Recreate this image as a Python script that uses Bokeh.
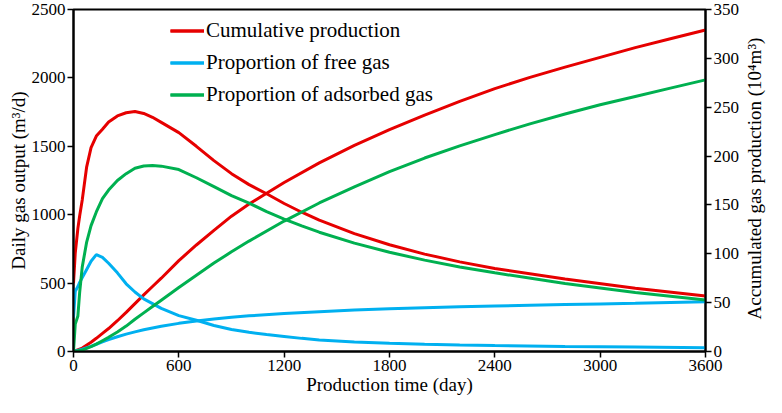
import math
from bokeh.plotting import figure
from bokeh.layouts import row
from bokeh.models import Range1d, LinearAxis, Legend, LegendItem, FixedTicker
from bokeh.embed import file_html
from bokeh.resources import INLINE

# ---- data ----
t_daily = [0, 10, 25, 35, 50, 75, 100, 130, 165, 200, 250, 300, 350, 400, 450, 500,
           600, 700, 800, 900, 1000, 1100, 1200, 1300, 1400, 1600, 1800, 2000, 2200, 2400,
           2800, 3200, 3600]
total_daily = [500, 720, 900, 990, 1110, 1350, 1490, 1575, 1625, 1678, 1722, 1745, 1755, 1740, 1712, 1675,
               1600, 1500, 1395, 1300, 1220, 1153, 1082, 1018, 960, 862, 780, 712, 655, 607,
               530, 463, 405]
free_daily = [250, 440, 475, 505, 540, 600, 660, 708, 688, 645, 575, 495, 435, 385, 350, 315,
              262, 228, 190, 161, 140, 124, 110, 96, 84, 70, 60, 53, 47, 43,
              37, 32, 28]
adsorbed_daily = [0, 200, 260, 430, 620, 800, 920, 1020, 1117, 1180, 1250, 1300, 1340, 1356, 1360, 1355,
                  1330, 1270, 1205, 1140, 1085, 1022, 968, 918, 872, 792, 725, 668, 618, 575,
                  497, 432, 377]

t_cum = [0, 50, 100, 130, 165, 200, 250, 300, 350, 400, 450, 500, 600, 700, 800, 900, 1000,
         1200, 1400, 1600, 1800, 2000, 2200, 2400, 2600, 2800, 3000, 3200, 3400, 3600]
total_cum = [0, 3.5, 9.5, 13.5, 18.5, 23.5, 31.5, 40, 49, 58, 66.5, 75, 93, 109, 124, 138.5, 151,
             173, 193, 211, 227, 242, 256, 269, 280.5, 291, 301, 311, 320, 329]
free_cum = [0, 2.3, 5.3, 7.4, 9.8, 12.1, 15.1, 17.8, 20.1, 22.2, 24.1, 25.8, 28.8, 31.3, 33.3, 35, 36.5,
            38.8, 40.8, 42.4, 43.7, 44.8, 45.8, 46.6, 47.3, 48, 48.7, 49.4, 50.2, 51]
adsorbed_cum = [0, 1.5, 5, 7.5, 11, 14.5, 20, 26, 33, 39.5, 46, 52.5, 65.5, 78, 90.5, 102, 113,
                133.5, 152, 168.5, 184, 198, 210.5, 222, 233, 243, 252.5, 261, 269.5, 278]

x_ticks = [0, 600, 1200, 1800, 2400, 3000, 3600]
left_ticks = [0, 500, 1000, 1500, 2000, 2500]
right_ticks = [0, 50, 100, 150, 200, 250, 300, 350]

labels = ["Cumulative production", "Proportion of free gas", "Proportion of adsorbed gas"]
colors = ["#E60000", "#00B0F0", "#00B050"]
right_title = "Accumulated gas production (10⁴m³)"

FONT = "Liberation Serif"
TOP, BOTTOM = 9, 46

cum_range = Range1d(0, 350)

p = figure(width=742, height=397, x_range=Range1d(0, 3600), y_range=Range1d(0, 2500),
           output_backend="svg", toolbar_location=None)
p.min_border = 0
p.min_border_left = 73
p.min_border_top = TOP
p.min_border_right = 30
p.min_border_bottom = BOTTOM
p.extra_y_ranges = {"cum": cum_range}
p.grid.visible = False
p.outline_line_color = "black"
p.outline_line_width = 2
p.outline_line_alpha = 1
p.background_fill_color = "white"
p.border_fill_color = "white"

p.xaxis.ticker = FixedTicker(ticks=x_ticks)
p.yaxis.ticker = FixedTicker(ticks=left_ticks)
p.xaxis.axis_label = "Production time (day)"
p.yaxis.axis_label = "Daily gas output (m³/d)"

right = LinearAxis(y_range_name="cum", ticker=FixedTicker(ticks=right_ticks))
p.add_layout(right, "right")

for ax in [p.xaxis[0], p.yaxis[0], right]:
    ax.axis_line_width = 2
    ax.axis_line_color = "black"
    ax.major_tick_line_width = 1.5
    ax.major_tick_line_color = "black"
    ax.major_tick_out = 6
    ax.major_tick_in = 0
    ax.minor_tick_out = 0
    ax.minor_tick_in = 0
    ax.major_label_text_font = FONT
    ax.major_label_text_font_size = "17px"
    ax.major_label_text_color = "black"
    ax.major_label_standoff = 2
    ax.axis_label_text_font = FONT
    ax.axis_label_text_font_size = "19px"
    ax.axis_label_text_font_style = "normal"
    ax.axis_label_text_color = "black"
    ax.axis_label_standoff = 0

series_daily = [total_daily, free_daily, adsorbed_daily]
series_cum = [total_cum, free_cum, adsorbed_cum]
items = []
for lab, col, d, c in zip(labels, colors, series_daily, series_cum):
    r1 = p.line(t_daily, d, line_color=col, line_width=3)
    r2 = p.line(t_cum, c, line_color=col, line_width=3, y_range_name="cum")
    items.append(LegendItem(label=lab, renderers=[r1, r2]))

legend = Legend(items=items, location=(97, 244))
legend.label_text_font = FONT
legend.label_text_font_size = "21px"
legend.label_text_color = "black"
legend.glyph_width = 34
legend.glyph_height = 25
legend.label_height = 25
legend.label_standoff = 2
legend.spacing = 7
legend.padding = 0
legend.margin = 0
legend.border_line_alpha = 0
legend.background_fill_alpha = 0
p.add_layout(legend, "center")

# narrow companion panel holding the right-hand axis title (reads bottom to top)
p2 = figure(width=24, height=397, x_range=Range1d(-1, 1), y_range=cum_range,
            output_backend="svg", toolbar_location=None,
            x_axis_location=None, y_axis_location=None)
p2.min_border = 0
p2.min_border_top = TOP
p2.min_border_bottom = BOTTOM
p2.grid.visible = False
p2.outline_line_color = None
p2.background_fill_color = "white"
p2.border_fill_color = "white"
p2.text(x=[0], y=[177], text=[right_title], angle=math.pi / 2,
        text_align="center", text_baseline="middle",
        text_font={"value": FONT}, text_font_size="19px", text_color="black")

layout = row(p, p2, spacing=0)
open("out.html", "w").write(file_html(layout, INLINE))
